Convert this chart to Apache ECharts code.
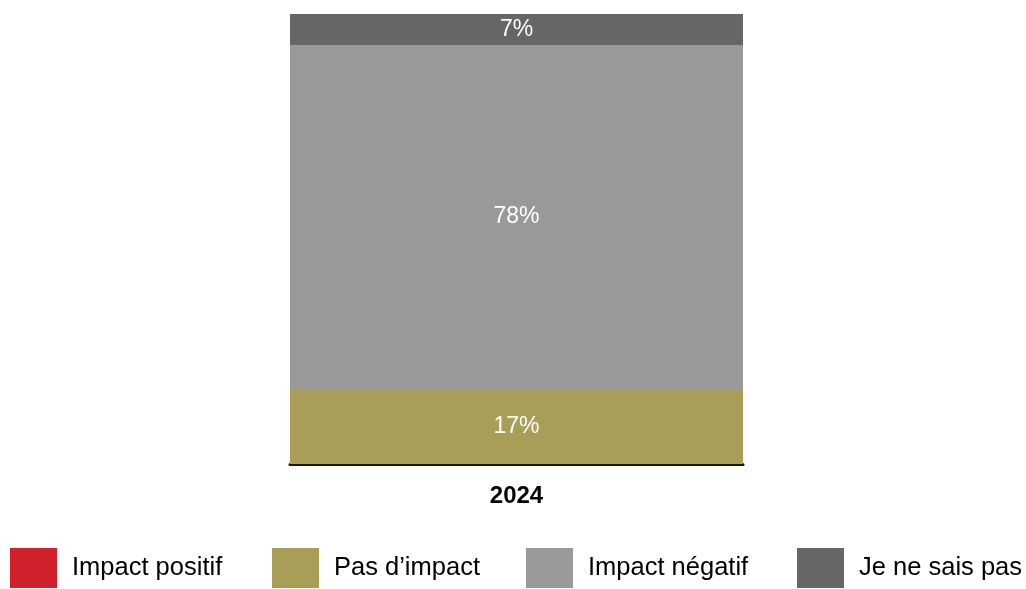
<!DOCTYPE html>
<html>
<head>
<meta charset="utf-8">
<script src="https://cdn.jsdelivr.net/npm/echarts@6/dist/echarts.min.js"></script>
<style>
  html, body { margin: 0; padding: 0; background: #ffffff; }
  #chart { width: 1026px; height: 589px; }
</style>
</head>
<body>
<div id="chart"></div>
<script>
// Survey results: perceived impact, single stacked column
const categories = ['2024'];
const seriesNames = ['Impact positif', 'Pas d\u2019impact', 'Impact n\u00e9gatif', 'Je ne sais pas'];
const impactPositif = [0];
const pasDImpact = [17];
const impactNegatif = [78];
const jeNeSaisPas = [7];
const seriesColors = ['#D0202A', '#A89E58', '#999999', '#666666'];

const valueSets = [impactPositif, pasDImpact, impactNegatif, jeNeSaisPas];
const total = valueSets.reduce((s, arr) => s + arr[0], 0);
const fontFamily = 'Liberation Sans, Arial, sans-serif';

// one legend block per entry, laid out along the bottom row
const legendLefts = [10, 272, 526, 797];

const chart = echarts.init(document.getElementById('chart'), null, { renderer: 'canvas' });

chart.setOption({
  animation: false,
  backgroundColor: '#ffffff',
  grid: { left: 290, right: 283, top: 14, bottom: 125, containLabel: false },
  xAxis: {
    type: 'category',
    data: categories,
    axisLine: { show: true, lineStyle: { color: '#1a1a0a', width: 3 } },
    axisTick: { show: false },
    axisLabel: { color: '#000000', fontSize: 24, fontWeight: 'bold', fontFamily: fontFamily, margin: 20 }
  },
  yAxis: {
    type: 'value',
    min: 0,
    max: total,
    show: false,
    splitLine: { show: false }
  },
  legend: seriesNames.map((name, i) => ({
    left: legendLefts[i],
    top: 548,
    padding: 0,
    itemWidth: 47,
    itemHeight: 40,
    icon: 'rect',
    selectedMode: false,
    textStyle: { fontSize: 25.5, color: '#000000', fontFamily: fontFamily, padding: [0, 0, 0, 10] },
    data: [name]
  })),
  series: seriesNames.map((name, i) => ({
    name: name,
    type: 'bar',
    stack: 'total',
    barWidth: '100%',
    data: valueSets[i],
    itemStyle: { color: seriesColors[i] },
    label: {
      show: valueSets[i][0] > 0,
      position: 'inside',
      color: '#ffffff',
      fontSize: 23,
      fontFamily: fontFamily,
      formatter: p => p.value + '%'
    }
  }))
});
</script>
</body>
</html>
